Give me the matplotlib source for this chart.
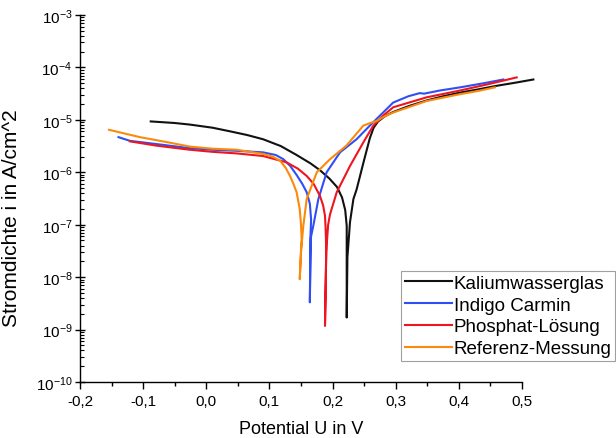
import matplotlib
matplotlib.use("Agg")
import matplotlib.pyplot as plt
from matplotlib.ticker import MultipleLocator, FuncFormatter, FixedLocator, LogFormatterMathtext, NullFormatter
import numpy as np

plt.rcParams['font.family'] = ['Liberation Sans', 'DejaVu Sans']
plt.rcParams['mathtext.fontset'] = 'custom'
plt.rcParams['mathtext.rm'] = 'Liberation Sans'

# Potential (V) and log10 of current density (A/cm^2)
kalium_u = [-0.088, -0.05, -0.026, 0.01, 0.038, 0.065, 0.090, 0.118, 0.143, 0.165, 0.180, 0.195,
            0.207, 0.215, 0.220, 0.2224, 0.2224, 0.2235, 0.2276, 0.233, 0.238, 0.249, 0.259, 0.265,
            0.272, 0.283, 0.296, 0.32, 0.349, 0.375, 0.402, 0.43, 0.46, 0.49, 0.518]
kalium_log = [-5.03, -5.06, -5.09, -5.15, -5.22, -5.29, -5.37, -5.50, -5.67, -5.83, -5.96, -6.12,
              -6.28, -6.48, -6.72, -7.02, -8.77, -7.62, -6.95, -6.51, -6.33, -5.81, -5.35, -5.15,
              -5.03, -4.93, -4.85, -4.74, -4.63, -4.55, -4.48, -4.42, -4.35, -4.29, -4.23]

indigo_u = [-0.139, -0.121, -0.08, -0.026, 0.010, 0.048, 0.090, 0.110, 0.122, 0.133, 0.143, 0.152,
            0.159, 0.164, 0.166, 0.165, 0.164, 0.1655, 0.1695, 0.1775, 0.1906, 0.2118, 0.238, 0.259,
            0.28, 0.296, 0.32, 0.338, 0.345, 0.37, 0.402, 0.44, 0.4705]
indigo_log = [-5.33, -5.40, -5.46, -5.54, -5.57, -5.59, -5.62, -5.67, -5.75, -5.88, -6.05, -6.22,
              -6.38, -6.60, -6.90, -7.21, -8.48, -7.25, -7.02, -6.51, -6.00, -5.62, -5.37, -5.11,
              -4.86, -4.67, -4.55, -4.49, -4.50, -4.44, -4.38, -4.30, -4.23]

phosphat_u = [-0.121, -0.08, -0.026, 0.010, 0.048, 0.090, 0.127, 0.145, 0.159, 0.170, 0.180, 0.185,
              0.188, 0.189, 0.190, 0.188, 0.190, 0.193, 0.196, 0.2066, 0.2276, 0.2487, 0.2645, 0.28,
              0.296, 0.349, 0.402, 0.45, 0.4916]
phosphat_log = [-5.41, -5.49, -5.57, -5.61, -5.64, -5.69, -5.81, -5.93, -6.07, -6.22, -6.45, -6.63,
                -6.83, -7.08, -7.47, -8.93, -7.50, -7.00, -6.80, -6.38, -5.88, -5.43, -5.11, -4.92,
                -4.76, -4.57, -4.44, -4.31, -4.19]

referenz_u = [-0.154, -0.105, -0.06, -0.026, 0.010, 0.048, 0.090, 0.105, 0.117, 0.126, 0.1326, 0.138,
              0.143, 0.148, 0.150, 0.151, 0.148, 0.150, 0.1537, 0.159, 0.175, 0.196, 0.222, 0.2487,
              0.262, 0.27, 0.283, 0.296, 0.349, 0.402, 0.43, 0.457]
referenz_log = [-5.19, -5.33, -5.43, -5.51, -5.55, -5.57, -5.65, -5.70, -5.78, -5.92, -6.07, -6.22,
                -6.38, -6.70, -7.00, -7.27, -8.04, -7.50, -7.02, -6.51, -6.00, -5.75, -5.49, -5.11,
                -5.05, -5.02, -4.93, -4.86, -4.64, -4.51, -4.45, -4.38]

series = [
    ("Kaliumwasserglas", kalium_u, kalium_log, "#111111"),
    ("Indigo Carmin", indigo_u, indigo_log, "#2f4ff5"),
    ("Phosphat-Lösung", phosphat_u, phosphat_log, "#ee1520"),
    ("Referenz-Messung", referenz_u, referenz_log, "#fb8a0c"),
]

decades = np.arange(-10, -2)

fig = plt.figure(figsize=(6.16, 4.39), dpi=100)
ax = fig.add_axes([80 / 616, 1 - 383 / 439, 442 / 616, 367 / 439])

for name, u, lg, col in series:
    ax.plot(u, 10 ** np.array(lg), color=col, lw=1.5, label=name, clip_on=False)

ax.set_yscale('log')
ax.set_xlim(-0.2, 0.5)
ax.set_ylim(1e-10, 1e-3)

ax.spines['top'].set_visible(False)
ax.spines['right'].set_visible(False)
for s in ('left', 'bottom'):
    ax.spines[s].set_linewidth(1.0)

ax.xaxis.set_major_locator(MultipleLocator(0.1))
ax.xaxis.set_minor_locator(MultipleLocator(0.05))


def comma(v, pos):
    v = round(v, 2)
    if v == 0:
        v = 0.0
    return f"{v:.1f}".replace('.', ',')


ax.xaxis.set_major_formatter(FuncFormatter(comma))
ax.yaxis.set_major_locator(FixedLocator(10.0 ** decades))
minor = [m * 10.0 ** d for d in decades[:-1] for m in range(2, 10)]
ax.yaxis.set_minor_locator(FixedLocator(minor))
ax.yaxis.set_major_formatter(LogFormatterMathtext())
ax.yaxis.set_minor_formatter(NullFormatter())

ax.tick_params(axis='x', which='major', direction='out', length=5, width=1.0, labelsize=11, pad=4)
ax.tick_params(axis='x', which='minor', direction='out', length=3, width=1.0)
ax.tick_params(axis='y', which='major', direction='inout', length=7, width=1.0, labelsize=11, pad=2)
ax.tick_params(axis='y', which='minor', direction='in', length=3, width=0.8)

ax.set_xlabel("Potential U in V", fontsize=13, labelpad=8)
ax.set_ylabel("Stromdichte i in A/cm^2", fontsize=15)
ax.yaxis.set_label_coords(-0.133, 0.45)

leg = ax.legend(loc='upper left', bbox_to_anchor=(401 / 616, 1 - 272 / 439),
                bbox_transform=fig.transFigure, fontsize=13.5, frameon=True, fancybox=False,
                borderaxespad=0, borderpad=0.2, handlelength=2.5, handletextpad=0.1,
                labelspacing=0.25)
leg.get_frame().set_edgecolor('#888888')
leg.get_frame().set_linewidth(0.8)

fig.savefig("out.png", dpi=100)
